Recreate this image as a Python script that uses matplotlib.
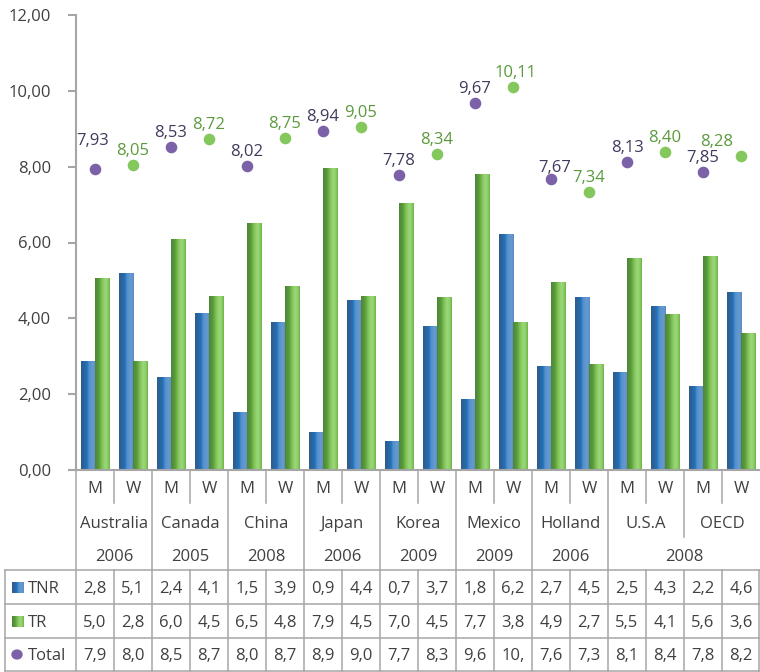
import numpy as np
import matplotlib
matplotlib.use("Agg")
import matplotlib.pyplot as plt
from matplotlib.colors import LinearSegmentedColormap
from matplotlib.lines import Line2D
from matplotlib.patches import Circle

# ---- data -------------------------------------------------------------
countries = ["Australia", "Canada", "China", "Japan", "Korea",
             "Mexico", "Holland", "U.S.A", "OECD"]
genders = ["M", "W"]
year_groups = [("2006", 1), ("2005", 1), ("2008", 1), ("2006", 1),
               ("2009", 1), ("2009", 1), ("2006", 1), ("2008", 2)]
tnr = [2.85, 5.19, 2.43, 4.14, 1.51, 3.90, 0.98, 4.48, 0.75, 3.79,
       1.87, 6.22, 2.72, 4.56, 2.56, 4.30, 2.21, 4.67]
tr = [5.06, 2.86, 6.09, 4.58, 6.51, 4.85, 7.96, 4.57, 7.03, 4.55,
      7.79, 3.89, 4.95, 2.78, 5.57, 4.10, 5.64, 3.61]
total = [7.93, 8.05, 8.53, 8.72, 8.02, 8.75, 8.94, 9.05, 7.78, 8.34,
         9.67, 10.11, 7.67, 7.34, 8.13, 8.40, 7.85, 8.28]
yticks = [0, 2, 4, 6, 8, 10, 12]
row_names = ["TNR", "TR", "Total"]

# ---- styling ----------------------------------------------------------
plt.rcParams["font.family"] = ["Open Sans", "DejaVu Sans"]
TXT = "#404040"
GRID = "#a6a6a6"
PURPLE, PURPLE_TXT = "#7b62a8", "#3f3a5c"
GREEN_DOT, GREEN_TXT = "#84c75c", "#5b9a3c"

blue_cmap = LinearSegmentedColormap.from_list(
    "blue_cyl", [(0.0, "#2d5d8c"), (0.3, "#2b69a6"), (0.42, "#1e76c2"),
                 (0.52, "#508dcb"), (0.78, "#679ad1"), (1.0, "#5c8dc6")])
green_cmap = LinearSegmentedColormap.from_list(
    "green_cyl", [(0.0, "#4b8634"), (0.3, "#5f9f40"), (0.45, "#7cc152"),
                  (0.7, "#9dd77b"), (0.88, "#8acb65"), (1.0, "#6cb346")])

W, H = 760, 672
fig = plt.figure(figsize=(W / 100, H / 100), dpi=100)


def fx(px):
    return px / W


def fy(py):
    return 1 - py / H


ax = fig.add_axes([fx(76), fy(470), fx(760) - fx(76), fy(15) - fy(470)])

n = len(total)
x = np.arange(n)
bw = 0.38

b1 = ax.bar(x - bw / 2, tnr, width=bw, color="none", zorder=2)
b2 = ax.bar(x + bw / 2, tr, width=bw, color="none", zorder=2)

grad = np.linspace(0, 1, 64)[np.newaxis, :]
for container, cmap in ((b1, blue_cmap), (b2, green_cmap)):
    for p in container.patches:
        x0, w, h = p.get_x(), p.get_width(), p.get_height()
        ax.imshow(grad, cmap=cmap, extent=(x0, x0 + w, 0, h),
                  aspect="auto", interpolation="bilinear", zorder=2)

# total markers: men purple, women green
m_idx = x[0::2]
w_idx = x[1::2]
ax.scatter(m_idx, [total[i] for i in m_idx], s=70, color=PURPLE,
           zorder=4, linewidths=0)
ax.scatter(w_idx, [total[i] for i in w_idx], s=70, color=GREEN_DOT,
           zorder=4, linewidths=0)

label_nudge = {0: (-2, 24), 11: (3, 10), 12: (4, 7), 17: (-24, 10)}
for i, v in enumerate(total):
    dx, dy = label_nudge.get(i, (0, 10))
    ax.annotate(f"{v:.2f}".replace(".", ","), (i, v), xytext=(dx, dy),
                textcoords="offset pixels", ha="center", va="baseline",
                fontsize=12, color=PURPLE_TXT if i % 2 == 0 else GREEN_TXT,
                zorder=5, annotation_clip=False)

ax.set_xlim(-0.5, n - 0.5)
ax.set_ylim(0, 12)
ax.set_yticks(yticks)
ax.set_yticklabels([f"{t:.2f}".replace(".", ",") for t in yticks],
                   fontsize=12, color=TXT)
ax.set_xticks([])
ax.tick_params(axis="y", length=6, width=1.5, color=GRID, pad=12)
for s in ("top", "right"):
    ax.spines[s].set_visible(False)
for s in ("left", "bottom"):
    ax.spines[s].set_color(GRID)
    ax.spines[s].set_linewidth(1.5)

# ---- data table under the axis ----------------------------------------
x_left, cw = 76, 38
y_top, y_mw, y_cn, y_yr = 470, 503, 537, 570
row_y = [570, 604, 638, 671]


def vline(xp, ya, yb):
    fig.add_artist(Line2D([fx(xp), fx(xp)], [fy(ya), fy(yb)],
                          color=GRID, lw=1.1))


def hline(xa, xb, yp):
    fig.add_artist(Line2D([fx(xa), fx(xb)], [fy(yp), fy(yp)],
                          color=GRID, lw=1.1))


# header separators
group_edges = {0}
pos = 0
for _, span in year_groups:
    pos += span
    group_edges.add(2 * pos)
for k in range(1, n):
    xp = x_left + k * cw
    if k % 2 == 1:
        vline(xp, y_top, y_mw)
    elif k in group_edges:
        vline(xp, y_top, y_yr)
    else:
        vline(xp, y_top, y_cn)
vline(x_left, y_top, row_y[-1])

# value grid
for yp in row_y:
    hline(5, 760, yp)
vline(5, row_y[0], row_y[-1])
for k in range(1, n):
    vline(x_left + k * cw, row_y[0], row_y[-1])
vline(759, row_y[0], row_y[-1])

# header text
for k in range(n):
    cx = x_left + (k + 0.5) * cw
    fig.text(fx(cx), fy(493), genders[k % 2], ha="center", va="baseline",
             fontsize=12, color=TXT)
for j, c in enumerate(countries):
    cx = x_left + (2 * j + 1) * cw
    fig.text(fx(cx), fy(528), c, ha="center", va="baseline",
             fontsize=12, color=TXT)
pos = 0
for yr, span in year_groups:
    cx = x_left + (2 * pos + span) * cw
    fig.text(fx(cx), fy(561), yr, ha="center", va="baseline",
             fontsize=12, color=TXT)
    pos += span

# value rows (cells are narrow, so only the first three characters show)
for r, vals in enumerate((tnr, tr, total)):
    base = (row_y[r] + row_y[r + 1]) / 2 + 6
    fig.text(fx(28), fy(base), row_names[r], ha="left", va="baseline",
             fontsize=12, color=TXT)
    for k, v in enumerate(vals):
        cx = x_left + (k + 0.5) * cw
        fig.text(fx(cx), fy(base), f"{v:.2f}".replace(".", ",")[:3],
                 ha="center", va="baseline", fontsize=12, color=TXT)

# legend keys in the row headers
for r, cmap in ((0, blue_cmap), (1, green_cmap)):
    ymid = (row_y[r] + row_y[r + 1]) / 2
    kax = fig.add_axes([fx(12), fy(ymid + 6), fx(24) - fx(12),
                        fy(ymid - 5) - fy(ymid + 6)])
    kax.imshow(grad, cmap=cmap, aspect="auto", interpolation="bilinear")
    kax.axis("off")
ymid = (row_y[2] + row_y[3]) / 2
fig.add_artist(Circle((fx(17), fy(ymid)), radius=5 / W, color=PURPLE,
                      transform=fig.transFigure))

fig.savefig("out.png", dpi=100)
